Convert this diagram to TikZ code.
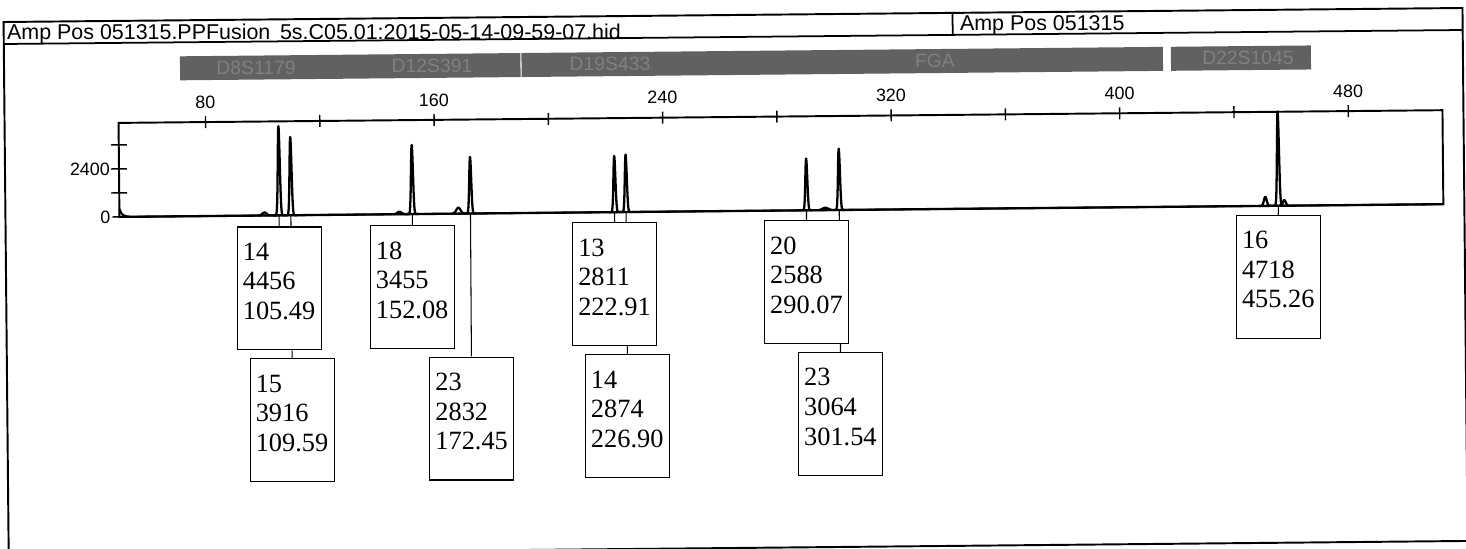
\documentclass[tikz,border=0pt]{standalone}
\usepackage{fontspec}
\setmainfont{Liberation Serif}
\setsansfont{Liberation Sans}

\tikzstyle{allele} = [rectangle, draw=black, line width=0.65pt, fill=white, minimum width=1.68cm, minimum height=2.46cm, text width=1.46cm, inner sep=0.11cm, align=left, font=\fontsize{15}{16.8}\selectfont]
\tikzstyle{trace} = [line width=1.3pt, line join=round]
\tikzstyle{pin} = [line width=0.6pt]
\tikzstyle{locus} = [fill=black!62]
\tikzstyle{locusname} = [text=black!50, font=\sffamily\fontsize{11}{13}\selectfont]
\tikzstyle{axislabel} = [inner sep=1pt, font=\sffamily\fontsize{10.2}{11}\selectfont]
\tikzstyle{header} = [anchor=base west, inner sep=0pt, font=\sffamily\fontsize{12.2}{14}\selectfont]

\newcommand{\drawpeak}[3][1.4]{%
  \pgfmathsetmacro\pka{#2-6}\pgfmathsetmacro\pkb{#2+6}%
  \draw[trace] plot[domain=\pka:\pkb, samples=41, smooth] (\x,{211-0.02*#3*exp(-1*((\x-#2)/#1)*((\x-#2)/#1))});}

\begin{document}
\begin{tikzpicture}[x=0.02cm, y=-0.02cm]
\useasboundingbox (0,0) rectangle (1466,548);
\begin{scope}[rotate around={0.55:(733,274)}]
% frame and header
\draw[line width=1.1pt] (6,15) rectangle (1465,548);
\draw[line width=1pt] (6,37) -- (1465,37);
\draw[line width=1pt] (955,15) -- (955,37);
\node[header] (runname) at (9,33) {Amp Pos 051315.PPFusion\hspace{0.45em}5s.C05.01:2015-05-14-09-59-07.hid};
\node[header] (sample) at (962,33) {Amp Pos 051315};

% locus bars
\fill[locus] (182,51) rectangle (1165,75);
\draw[white, line width=0.6pt] (523,51) -- (523,75);
\fill[locus] (1173,51) rectangle (1313,75);
\node[locusname] (d8name) at (258,63) {D8S1179};
\node[locusname] (d12name) at (434,63) {D12S391};
\node[locusname] (d19name) at (612,63) {D19S433};
\node[locusname] (fganame) at (937,63) {FGA};
\node[locusname] (d22name) at (1250,63) {D22S1045};

% axes
\draw[line width=1.1pt] (120,117) rectangle (1444,211);
\foreach \u in {80,120,...,480}
  \draw[line width=0.8pt] ({207+2.857*(\u-80)},111) -- ++(0,12);
\foreach \u in {80,160,...,480}
  \node[axislabel] (bp\u) at ({207+2.857*(\u-80)},97) {\u};
\foreach \v in {1200,2400,3600}
  \draw[line width=0.8pt] (112,{211-0.02*\v}) -- ++(16,0);
\draw[line width=0.8pt] (113,211) -- (120,211);
\node[axislabel, anchor=east] (rfu0) at (113,211) {0};
\node[axislabel, anchor=east] (rfu2400) at (113,163) {2400};

% trace
\draw[trace] plot[domain=120:140, samples=21, smooth] (\x,{211-8*exp(-1*(\x-120)/2.5)}) -- (1444,211);
\drawpeak[3]{265}{150}
\drawpeak[3]{400}{120}
\drawpeak[3]{459}{300}
\drawpeak[4]{826}{120}
\drawpeak[2]{1266}{450}
\drawpeak[2]{1285}{280}
\drawpeak{279.8}{4456}
\drawpeak{291.5}{3916}
\drawpeak{412.9}{3455}
\drawpeak{471.1}{2832}
\drawpeak{615.3}{2811}
\drawpeak{626.7}{2874}
\drawpeak{807.2}{2588}
\drawpeak{839.9}{3064}
\drawpeak{1279.1}{4718}

\coordinate (pk1) at (279.8,211);
\coordinate (pk2) at (291.5,211);
\coordinate (pk3) at (412.9,211);
\coordinate (pk4) at (471.1,211);
\coordinate (pk5) at (615.3,211);
\coordinate (pk6) at (626.7,211);
\coordinate (pk7) at (807.2,211);
\coordinate (pk8) at (839.9,211);
\coordinate (pk9) at (1279.1,211);

% allele call boxes
\node[allele, anchor=north] (d8a) at (279.8,222) {14\\4456\\105.49\\[-0.3cm]\mbox{}};
\node[allele, anchor=north] (d8b) at (291.5,354) {15\\3916\\109.59\\[-0.3cm]\mbox{}};
\node[allele, anchor=north] (d12a) at (412.9,222) {18\\3455\\152.08\\[-0.3cm]\mbox{}};
\node[allele, anchor=north] (d12b) at (471.1,354) {23\\2832\\172.45\\[-0.3cm]\mbox{}};
\node[allele, anchor=north] (d19a) at (615.3,221) {13\\2811\\222.91\\[-0.3cm]\mbox{}};
\node[allele, anchor=north] (d19b) at (626.7,353) {14\\2874\\226.90\\[-0.3cm]\mbox{}};
\node[allele, anchor=north] (fgaa) at (807.2,221) {20\\2588\\290.07\\[-0.3cm]\mbox{}};
\node[allele, anchor=north] (fgab) at (839.9,353) {23\\3064\\301.54\\[-0.3cm]\mbox{}};
\node[allele, anchor=north] (d22a) at (1279.1,220) {16\\4718\\455.26\\[-0.3cm]\mbox{}};

\draw[pin] (pk1) -- (d8a);
\draw[pin] (pk2) -- (pk2 |- d8a.north);
\draw[pin] (pk2 |- d8a.south) -- (d8b);
\draw[pin] (pk3) -- (d12a);
\draw[pin] (pk4) -- (d12b);
\draw[pin] (pk5) -- (d19a);
\draw[pin] (pk6) -- (pk6 |- d19a.north);
\draw[pin] (pk6 |- d19a.south) -- (d19b);
\draw[pin] (pk7) -- (fgaa);
\draw[pin] (pk8) -- (pk8 |- fgaa.north);
\draw[pin] (pk8 |- fgaa.south) -- (fgab);
\draw[pin] (pk9) -- (d22a);
\end{scope}
\end{tikzpicture}
\end{document}
